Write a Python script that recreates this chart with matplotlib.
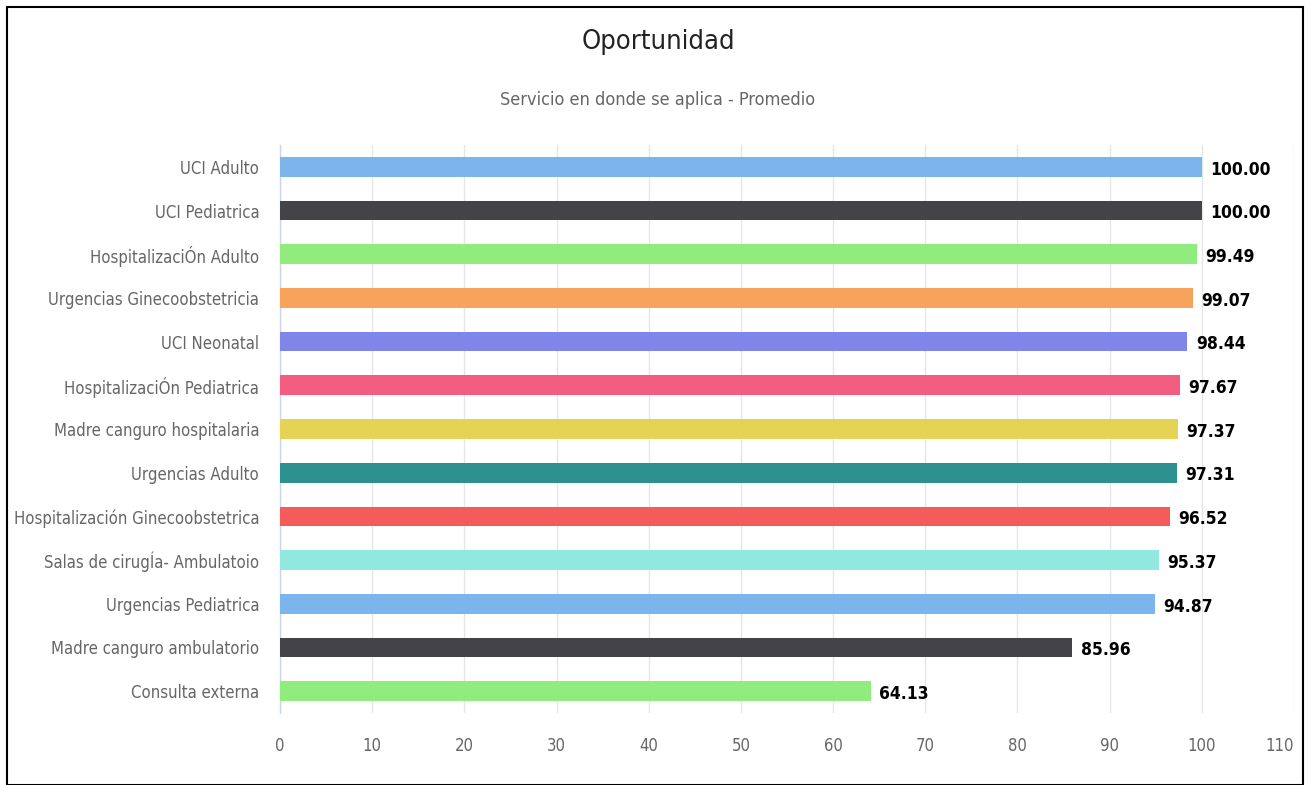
import matplotlib
matplotlib.use("Agg")
import matplotlib.pyplot as plt
from matplotlib.patches import Rectangle

# datos
servicios = [
    "UCI Adulto",
    "UCI Pediatrica",
    "HospitalizaciÓn Adulto",
    "Urgencias Ginecoobstetricia",
    "UCI Neonatal",
    "HospitalizaciÓn Pediatrica",
    "Madre canguro hospitalaria",
    "Urgencias Adulto",
    "Hospitalización Ginecoobstetrica",
    "Salas de cirugÍa- Ambulatoio",
    "Urgencias Pediatrica",
    "Madre canguro ambulatorio",
    "Consulta externa",
]
promedio = [100.00, 100.00, 99.49, 99.07, 98.44, 97.67, 97.37, 97.31,
            96.52, 95.37, 94.87, 85.96, 64.13]
colores = ["#7cb5ec", "#434348", "#90ed7d", "#f7a35c", "#8085e9", "#f15c80",
           "#e4d354", "#2b908f", "#f45b5b", "#91e8e1", "#7cb5ec", "#434348",
           "#90ed7d"]
ticks_x = list(range(0, 111, 10))

plt.rcParams['font.family'] = ['DejaVu Sans']
plt.rcParams['font.stretch'] = 'condensed'

W, H = 1311, 785
fig = plt.figure(figsize=(W / 100, H / 100), dpi=100)

# borde exterior
fig.patches.append(Rectangle((7 / W, 0), (1303 - 7) / W, (H - 7) / H,
                             transform=fig.transFigure, fill=False,
                             edgecolor="black", linewidth=1.5))

fig.text(658 / W, 1 - 42 / H, "Oportunidad", ha="center", va="center",
         fontsize=19.5, color="#222222")
fig.text(658 / W, 1 - 100 / H, "Servicio en donde se aplica - Promedio",
         ha="center", va="center", fontsize=13, color="#666666")

ax = fig.add_axes([280 / W, 1 - 713 / H, (1294 - 280) / W, (713 - 145) / H])

pos = list(range(len(servicios)))
ax.barh(pos, promedio, height=0.45, color=colores, zorder=3)
for p, v in zip(pos, promedio):
    ax.annotate(f"{v:.2f}", xy=(v, p), xytext=(6, -2), textcoords="offset points",
                ha="left", va="center", fontsize=12.5, fontweight="bold",
                color="black")

ax.set_ylim(len(servicios) - 0.5, -0.5)
ax.set_xlim(0, 110)
ax.set_yticks(pos)
ax.set_yticklabels(servicios, fontsize=12, color="#666666")
ax.set_xticks(ticks_x)
ax.set_xticklabels([str(t) for t in ticks_x], fontsize=12, color="#666666")
ax.get_xticklabels()[-1].set_ha("right")
ax.tick_params(axis="y", length=0, pad=15)
ax.tick_params(axis="x", length=0, pad=17)

ax.grid(axis="x", color="#e6e6e6", linewidth=1, zorder=0)
for s in ["top", "right", "bottom"]:
    ax.spines[s].set_visible(False)
ax.spines["left"].set_color("#ccd6eb")
ax.spines["left"].set_linewidth(1)

fig.savefig("out.png", dpi=100)
